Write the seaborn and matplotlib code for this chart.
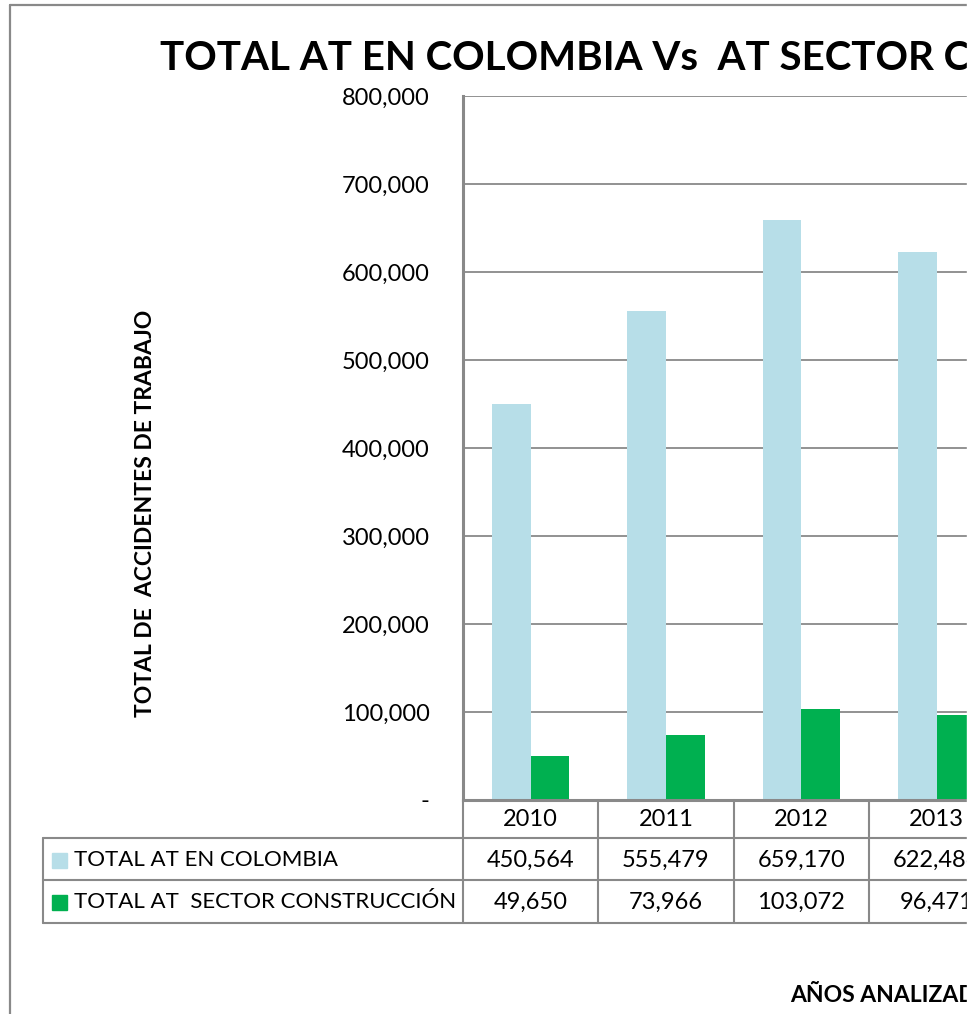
import matplotlib
matplotlib.use('Agg')
import matplotlib.pyplot as plt
from matplotlib.lines import Line2D
from matplotlib.patches import Rectangle
from matplotlib.transforms import blended_transform_factory
import pandas as pd
import seaborn as sns

years = ["2010", "2011", "2012", "2013"]
total_colombia = [450564, 555479, 659170, 622486]
total_construccion = [49650, 73966, 103072, 96471]
series = ["TOTAL AT EN COLOMBIA", "TOTAL AT  SECTOR CONSTRUCCIÓN"]
colors = ["#B7DEE8", "#00B050"]
yticks = [0, 100000, 200000, 300000, 400000, 500000, 600000, 700000, 800000]

sns.set_style("white")
plt.rcParams['font.family'] = ['Lato', 'DejaVu Sans']
plt.rcParams['text.color'] = 'black'
plt.rcParams['ytick.labelcolor'] = 'black'

W, H = 977, 1014
def fx(p):
    return p / W
def fy(p):
    return 1 - p / H

grey = "#898989"

df = pd.DataFrame({
    "year": years * 2,
    "value": total_colombia + total_construccion,
    "serie": [series[0]] * len(years) + [series[1]] * len(years),
})

fig = plt.figure(figsize=(W / 100, H / 100), dpi=100)
ax = fig.add_axes([fx(463), fy(800), 541.2 / W, 704 / H])

sns.barplot(data=df, x="year", y="value", hue="serie", palette=colors,
            width=0.57, saturation=1, linewidth=0, legend=False, ax=ax)

ax.set_xlim(-0.5, len(years) - 0.5)
ax.set_ylim(0, 800000)
ax.set_yticks(yticks)
ax.set_yticklabels(["-" if v == 0 else f"{v:,.0f}" for v in yticks])
ax.set_axisbelow(True)
ax.yaxis.grid(True, color=grey, linewidth=1.3)
ax.tick_params(axis='y', length=8, width=1.3, color=grey, pad=16, labelsize=17,
               labelcolor='black')
ax.tick_params(axis='x', bottom=False, labelbottom=False)
ax.set_xlabel("")
ax.set_ylabel("")
for s in ["top", "right"]:
    ax.spines[s].set_visible(False)
for s in ["left", "bottom"]:
    ax.spines[s].set_color(grey)
    ax.spines[s].set_linewidth(2.2)

# data table under the chart
def hline(y, x0, x1):
    fig.add_artist(Line2D([fx(x0), fx(x1)], [fy(y), fy(y)], color=grey, lw=1.5))

def vline(x, y0, y1, trans=fig.transFigure):
    fig.add_artist(Line2D([x, x], [fy(y0), fy(y1)], color=grey, lw=1.5,
                          transform=trans))

tr = blended_transform_factory(ax.transData, fig.transFigure)
hline(838, 43, 977)
hline(880, 43, 977)
hline(923, 43, 977)
vline(fx(43), 838, 923)
vline(fx(463), 800, 923)
for i in range(len(years)):
    vline(i + 0.5, 800, 923, trans=tr)

for i, yr in enumerate(years):
    fig.text(i, fy(820), yr, transform=tr, ha='center', va='center', fontsize=17)
    fig.text(i, fy(860), f"{total_colombia[i]:,}", transform=tr,
             ha='center', va='center', fontsize=17)
    fig.text(i, fy(902), f"{total_construccion[i]:,}", transform=tr,
             ha='center', va='center', fontsize=17)

for name, col, yc in zip(series, colors, [860, 902]):
    fig.add_artist(Rectangle((fx(52), fy(yc + 7.5)), 15 / W, 15 / H,
                             transform=fig.transFigure, color=col))
    fig.text(fx(74), fy(yc), name, ha='left', va='center', fontsize=16)

fig.text(fx(160), fy(58), "TOTAL AT EN COLOMBIA Vs  AT SECTOR CONSTRUCCIÓN",
         ha='left', va='center', fontsize=29, weight='bold')
fig.text(fx(145), fy(513), "TOTAL DE  ACCIDENTES DE TRABAJO", rotation=90,
         ha='center', va='center', fontsize=16.5, weight='bold')
fig.text(fx(790), fy(995), "AÑOS ANALIZADOS", ha='left', va='center',
         fontsize=16.5, weight='bold')

# outer chart border
fig.add_artist(Line2D([fx(10), 1], [fy(5), fy(5)], color=grey, lw=1.6))
fig.add_artist(Line2D([fx(10), fx(10)], [fy(5), 0], color=grey, lw=1.6))

# the picture is cut at the right
fig.add_artist(Rectangle((fx(967), 0), 10 / W, 1, transform=fig.transFigure,
                         color='white', zorder=100))

fig.savefig("out.png", dpi=100)
